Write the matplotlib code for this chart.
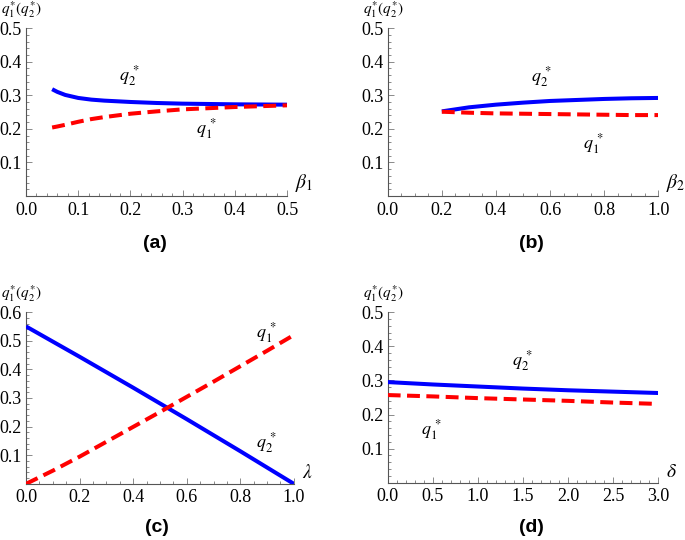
import numpy as np
import matplotlib
matplotlib.use("Agg")
import matplotlib.pyplot as plt
from matplotlib.ticker import MultipleLocator, FormatStrFormatter

plt.rcParams['font.family'] = ['Liberation Serif', 'DejaVu Serif']
plt.rcParams['mathtext.fontset'] = 'stix'

# (a) beta1
b1 = [0.05, 0.06, 0.075, 0.1, 0.125, 0.15, 0.2, 0.25, 0.3, 0.4, 0.5]
a_q2 = [0.318, 0.310, 0.301, 0.292, 0.287, 0.284, 0.280, 0.277, 0.275, 0.273, 0.272]
a_q1 = [0.204, 0.207, 0.212, 0.221, 0.229, 0.235, 0.245, 0.252, 0.258, 0.265, 0.270]

# (b) beta2
b2 = [0.2, 0.3, 0.4, 0.5, 0.6, 0.7, 0.8, 0.9, 1.0]
b_q2 = [0.252, 0.264, 0.272, 0.278, 0.283, 0.286, 0.289, 0.291, 0.292]
b_q1 = [0.251, 0.248, 0.246, 0.245, 0.244, 0.243, 0.242, 0.241, 0.241]

# (c) lambda
lam = [0.0, 0.1, 0.2, 0.3, 0.4, 0.5, 0.6, 0.7, 0.8, 0.9, 1.0]
c_q2 = [0.55, 0.497, 0.444, 0.39, 0.336, 0.281, 0.226, 0.17, 0.114, 0.057, 0.0]
c_q1 = [0.0, 0.046, 0.095, 0.147, 0.199, 0.251, 0.304, 0.357, 0.411, 0.465, 0.52]

# (d) delta
dl = [0.0, 0.5, 1.0, 1.5, 2.0, 2.5, 3.0]
d_q2 = [0.295, 0.288, 0.282, 0.276, 0.271, 0.267, 0.263]
d_q1 = [0.257, 0.253, 0.248, 0.244, 0.240, 0.235, 0.231]

panels = [
    dict(rect=[0.038, 0.637, 0.381, 0.311], x=b1, q1=a_q1, q2=a_q2, xlim=0.5, ylim=0.5,
         xmaj=0.1, xmin=0.02, xlab=r'$\beta_1$', tag='(a)', tagpos=(155, 243),
         l2=(0.199, 0.36), l1=(0.346, 0.20)),
    dict(rect=[0.566, 0.637, 0.395, 0.311], x=b2, q1=b_q1, q2=b_q2, xlim=1.0, ylim=0.5,
         xmaj=0.2, xmin=0.05, xlab=r'$\beta_2$', tag='(b)', tagpos=(531, 243),
         l2=(0.57, 0.357), l1=(0.76, 0.155)),
    dict(rect=[0.038, 0.104, 0.391, 0.318], x=lam, q1=c_q1, q2=c_q2, xlim=1.0, ylim=0.6,
         xmaj=0.2, xmin=0.05, xlab=r'$\lambda$', tag='(c)', tagpos=(157, 527),
         l2=(0.898, 0.143), l1=(0.898, 0.53)),
    dict(rect=[0.566, 0.106, 0.395, 0.316], x=dl, q1=d_q1, q2=d_q2, xlim=3.0, ylim=0.5,
         xmaj=0.5, xmin=0.1, xlab=r'$\delta$', tag='(d)', tagpos=(531, 527),
         l2=(1.49, 0.358), l1=(0.49, 0.157)),
]

W, H = 685, 540
fig = plt.figure(figsize=(W / 100, H / 100), dpi=100)
for p in panels:
    ax = fig.add_axes(p['rect'])
    ax.plot(p['x'], p['q2'], color='#0000ff', lw=2.9, solid_capstyle='butt', zorder=3)
    ax.plot(p['x'], p['q1'], color='#ff0000', lw=2.9, dashes=(3.2, 1.6), zorder=3)
    ax.set_xlim(0, p['xlim'])
    ax.set_ylim(0, p['ylim'])
    for s in ['top', 'right']:
        ax.spines[s].set_visible(False)
    for s in ['left', 'bottom']:
        ax.spines[s].set_color('#555555')
        ax.spines[s].set_linewidth(0.8)
    ax.xaxis.set_major_locator(MultipleLocator(p['xmaj']))
    ax.xaxis.set_minor_locator(MultipleLocator(p['xmin']))
    ax.yaxis.set_minor_locator(MultipleLocator(0.02))
    ax.xaxis.set_major_formatter(FormatStrFormatter('%.1f'))
    ax.set_yticks(np.round(np.arange(0.1, p['ylim'] + 0.001, 0.1), 1))
    ax.yaxis.set_major_formatter(FormatStrFormatter('%.1f'))
    ax.tick_params(which='both', direction='in', color='#777777', labelsize=13, width=0.6)
    ax.tick_params(which='major', length=4, pad=4)
    ax.tick_params(axis='y', which='major', pad=3)
    ax.tick_params(which='minor', length=2)
    ax.patch.set_alpha(0)

    # y label above the axis, x label at the end of the axis
    x0 = p['rect'][0] * W
    ytop = (1 - p['rect'][1] - p['rect'][3]) * H
    fig.text(max(x0 - 25, 1) / W, 1 - (ytop - 8) / H, r'$q_1^{*}(q_2^{*})$',
             ha='left', va='bottom', fontsize=11)
    ax.text(1.03, 0.01, p['xlab'], transform=ax.transAxes, ha='left', va='bottom', fontsize=14)
    ax.text(p['l2'][0], p['l2'][1], r'$q_2^{\,*}$', ha='center', va='center', fontsize=13)
    ax.text(p['l1'][0], p['l1'][1], r'$q_1^{\,*}$', ha='center', va='center', fontsize=13)
    fig.text(p['tagpos'][0] / W, 1 - p['tagpos'][1] / H, p['tag'], ha='center', va='center',
             fontsize=14, fontweight='bold', family='Liberation Sans')

fig.savefig('out.png', dpi=100)
